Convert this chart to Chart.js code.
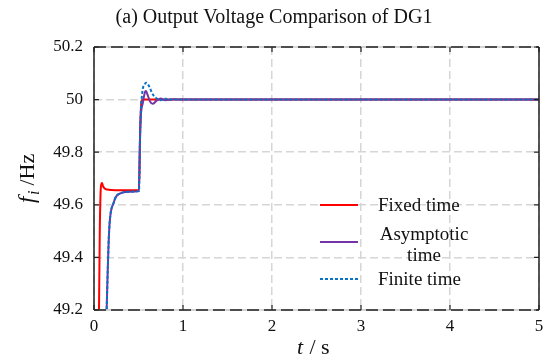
<!DOCTYPE html>
<html>
<head>
<meta charset="utf-8">
<script src="https://cdn.jsdelivr.net/npm/chart.js@4.4.0/dist/chart.umd.min.js"></script>
<style>
  body { margin: 0; background: #fff; }
  #wrap { width: 550px; height: 360px; }
</style>
</head>
<body>
<div id="wrap"><canvas id="chart" width="550" height="360"></canvas></div>
<script>
// data (time in s, frequency in Hz)
const fixedT = [0.045, 0.065, 0.078, 0.09, 0.10, 0.12, 0.15, 0.2, 0.3, 0.4, 0.505, 0.515, 0.525, 0.535, 0.55, 0.6, 1, 2, 3, 4, 5];
const fixedF = [48.8, 49.5, 49.67, 49.683, 49.672, 49.662, 49.658, 49.656, 49.655, 49.655, 49.656, 49.82, 49.95, 49.995, 50.0, 50.0, 50, 50, 50, 50, 50];

const asymT = [0.12, 0.142, 0.17, 0.22, 0.31, 0.4, 0.505, 0.52, 0.55, 0.575, 0.585, 0.6, 0.63, 0.66, 0.7, 0.75, 0.8, 0.9, 1, 2, 3, 4, 5];
const asymF = [48.9, 49.2, 49.5, 49.607, 49.645, 49.65, 49.652, 49.9, 49.99, 50.03, 50.033, 50.02, 49.993, 49.984, 49.995, 50.004, 49.998, 50.001, 50, 50, 50, 50, 50];

const finiteT = [0.12, 0.142, 0.17, 0.22, 0.31, 0.4, 0.505, 0.52, 0.54, 0.57, 0.59, 0.62, 0.66, 0.70, 0.75, 0.8, 0.9, 1, 2, 3, 4, 5];
const finiteF = [48.9, 49.2, 49.5, 49.607, 49.645, 49.65, 49.652, 49.9, 50.02, 50.058, 50.064, 50.05, 50.02, 50.005, 49.998, 50.003, 50.0, 50, 50, 50, 50, 50];

const yTicks = [49.2, 49.4, 49.6, 49.8, 50, 50.2];
const xTicks = [0, 1, 2, 3, 4, 5];

const seriesNames = ['Fixed time', 'Asymptotic time', 'Finite time'];
const RED = '#ff0000', PURPLE = '#7334a8', BLUE = '#0a72c4';
const SERIF = '"Liberation Serif", "DejaVu Serif", serif';

function pts(ts, vs) {
  return ts.map((t, i) => ({ x: t, y: vs[i] }));
}

// frame, inner ticks, legend, title and axis titles
const decor = {
  id: 'decor',
  afterDatasetsDraw(chart) {
    const c = chart.ctx;
    const a = chart.chartArea;
    const xs = chart.scales.x, ys = chart.scales.y;
    c.save();
    // top and bottom: gray under black dashes
    c.lineWidth = 1.5;
    c.strokeStyle = '#d0d0d0';
    c.beginPath();
    c.moveTo(a.left, a.top); c.lineTo(a.right, a.top);
    c.moveTo(a.left, a.bottom); c.lineTo(a.right, a.bottom);
    c.stroke();
    c.strokeStyle = '#222';
    c.setLineDash([12, 5]);
    c.beginPath();
    c.moveTo(a.left, a.top); c.lineTo(a.right, a.top);
    c.moveTo(a.left, a.bottom); c.lineTo(a.right, a.bottom);
    c.stroke();
    c.setLineDash([]);
    c.beginPath();
    c.moveTo(a.left, a.top); c.lineTo(a.left, a.bottom);
    c.moveTo(a.right, a.top); c.lineTo(a.right, a.bottom);
    c.stroke();
    // inward ticks
    c.lineWidth = 1.2;
    c.beginPath();
    xTicks.forEach(v => {
      const px = xs.getPixelForValue(v);
      c.moveTo(px, a.bottom); c.lineTo(px, a.bottom - 5);
      c.moveTo(px, a.top); c.lineTo(px, a.top + 5);
    });
    yTicks.forEach(v => {
      const py = ys.getPixelForValue(v);
      c.moveTo(a.left, py); c.lineTo(a.left + 5, py);
      c.moveTo(a.right, py); c.lineTo(a.right - 5, py);
    });
    c.stroke();

    // legend
    const lx = 320, lw = 38;
    c.lineWidth = 2;
    c.strokeStyle = RED;
    c.beginPath(); c.moveTo(lx, 205); c.lineTo(lx + lw, 205); c.stroke();
    c.strokeStyle = PURPLE;
    c.beginPath(); c.moveTo(lx, 242); c.lineTo(lx + lw, 242); c.stroke();
    c.strokeStyle = BLUE;
    c.setLineDash([3, 2]);
    c.beginPath(); c.moveTo(lx, 279); c.lineTo(lx + lw, 279); c.stroke();
    c.setLineDash([]);
    c.fillStyle = '#111';
    c.font = '19px ' + SERIF;
    c.textBaseline = 'middle';
    c.textAlign = 'left';
    c.fillText(seriesNames[0], 378, 206);
    c.fillText(seriesNames[2], 378, 280);
    c.textAlign = 'center';
    c.fillText('Asymptotic', 424, 235);
    c.fillText('time', 424, 256);

    // title
    c.font = '20px ' + SERIF;
    c.textAlign = 'center';
    c.fillText('(a) Output Voltage Comparison of DG1', 274, 18);

    // x title: t / s
    c.textAlign = 'left';
    c.textBaseline = 'alphabetic';
    c.font = 'italic 22px ' + SERIF;
    c.fillText('t', 297, 354);
    c.font = '22px ' + SERIF;
    c.fillText(' / s', 304, 354);

    // y title: f_i /Hz
    c.translate(34, 203);
    c.rotate(-Math.PI / 2);
    c.font = 'italic 23px ' + SERIF;
    c.fillText('f', 0, 0);
    c.font = 'italic 16px ' + SERIF;
    c.fillText('i', 8, 5);
    c.font = '22px ' + SERIF;
    c.fillText(' /Hz', 12, 0);
    c.restore();
  }
};

new Chart(document.getElementById('chart').getContext('2d'), {
  type: 'line',
  data: {
    datasets: [
      {
        label: seriesNames[2], data: pts(finiteT, finiteF), order: 0,
        borderColor: BLUE, borderWidth: 2, borderDash: [3, 2]
      },
      {
        label: seriesNames[1], data: pts(asymT, asymF), order: 1,
        borderColor: PURPLE, borderWidth: 2
      },
      {
        label: seriesNames[0], data: pts(fixedT, fixedF), order: 2,
        borderColor: RED, borderWidth: 2
      }
    ]
  },
  plugins: [decor],
  options: {
    responsive: false,
    animation: false,
    layout: { padding: { top: 47, right: 11, left: 0, bottom: 0 } },
    elements: {
      point: { radius: 0 },
      line: { cubicInterpolationMode: 'monotone', fill: false }
    },
    plugins: {
      legend: { display: false },
      title: { display: false },
      tooltip: { enabled: false }
    },
    scales: {
      x: {
        type: 'linear', min: 0, max: 5,
        afterBuildTicks: s => { s.ticks = xTicks.map(v => ({ value: v })); },
        afterFit: s => { s.height = 50; },
        ticks: { color: '#111', padding: 6, font: { family: SERIF, size: 17 } },
        grid: { color: '#d6d6d6', lineWidth: 1.5, drawTicks: false },
        border: { display: false, dash: [8, 4] }
      },
      y: {
        type: 'linear', min: 49.2, max: 50.2,
        afterBuildTicks: s => { s.ticks = yTicks.map(v => ({ value: v })); },
        afterFit: s => { s.width = 94; },
        ticks: {
          color: '#111', padding: 11, font: { family: SERIF, size: 17 },
          callback: v => String(Math.round(v * 10) / 10)
        },
        grid: { color: '#d6d6d6', lineWidth: 1.5, drawTicks: false },
        border: { display: false, dash: [8, 4] }
      }
    }
  }
});
</script>
</body>
</html>
